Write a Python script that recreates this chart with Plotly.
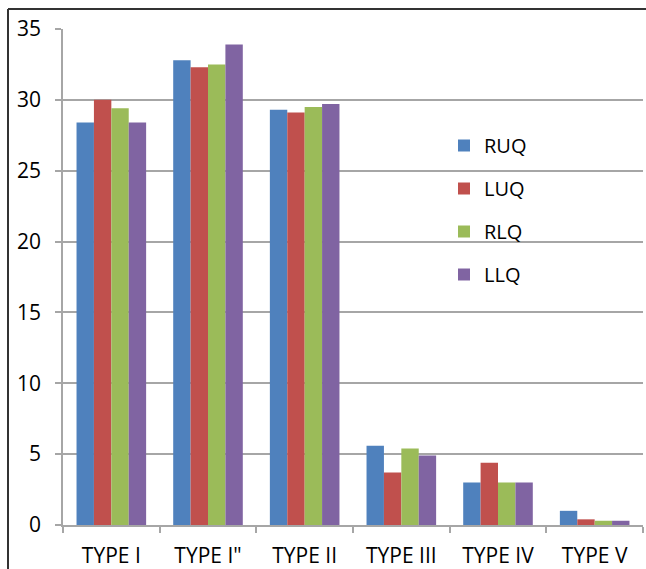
import plotly.graph_objects as go

# Chart data
categories = ["TYPE I", "TYPE I\"", "TYPE II", "TYPE III", "TYPE IV", "TYPE V"]
ruq = [28.4, 32.8, 29.3, 5.6, 3.0, 1.0]
luq = [30.0, 32.3, 29.1, 3.7, 4.4, 0.4]
rlq = [29.4, 32.5, 29.5, 5.4, 3.0, 0.3]
llq = [28.4, 33.9, 29.7, 4.9, 3.0, 0.3]
y_ticks = [0, 5, 10, 15, 20, 25, 30, 35]

series = [
    ("RUQ", ruq, "#4F81BD"),
    ("LUQ", luq, "#C0504D"),
    ("RLQ", rlq, "#9BBB59"),
    ("LLQ", llq, "#8064A2"),
]

W, H = 646, 569
ML, MR, MT, MB = 63, 3, 29, 44
PW, PH = W - ML - MR, H - MT - MB

def px_x(x):
    return (x - ML) / PW

def px_y(y):
    return 1 - (y - MT) / PH

fig = go.Figure()
for i, (name, vals, color) in enumerate(series):
    fig.add_trace(go.Bar(
        x=categories, y=vals, name=name,
        marker=dict(color=color, line=dict(color=color, width=0)),
        legendgroup=f"g{i}",
    ))

font = dict(family="Open Sans, sans-serif", size=21, color="#000000")
grid = "#A6A6A6"

fig.update_layout(
    width=W, height=H,
    margin=dict(l=ML, r=MR, t=MT, b=MB),
    paper_bgcolor="white", plot_bgcolor="white",
    font=font,
    barmode="group", bargap=0.28, bargroupgap=0,
    showlegend=True,
    legend=dict(
        x=px_x(444), y=px_y(126), xanchor="left", yanchor="top",
        font=dict(family="Open Sans, sans-serif", size=20, color="#000000"),
        traceorder="grouped", tracegroupgap=14,
        bgcolor="rgba(0,0,0,0)",
    ),
    xaxis=dict(
        showgrid=False, showline=True, linecolor=grid, linewidth=1.5,
        ticks="outside", tickson="boundaries", ticklen=6, tickcolor=grid,
        tickwidth=1.5, tickfont=font, ticklabelstandoff=11, automargin=False,
    ),
    yaxis=dict(
        range=[0, 35], tickvals=y_ticks, showgrid=True, gridcolor=grid,
        gridwidth=1.5, showline=True, linecolor=grid, linewidth=1.5,
        ticks="outside", ticklen=6, tickcolor=grid, tickwidth=1.5,
        tickfont=font, zeroline=False, ticklabelstandoff=10, automargin=False,
    ),
    shapes=[
        dict(type="line", xref="paper", yref="paper",
             x0=px_x(8), x1=px_x(W + 2), y0=px_y(9), y1=px_y(9),
             line=dict(color="#333333", width=2)),
        dict(type="line", xref="paper", yref="paper",
             x0=px_x(8), x1=px_x(8), y0=px_y(9), y1=px_y(H + 2),
             line=dict(color="#333333", width=2)),
    ],
)

fig.write_html("out.html")
